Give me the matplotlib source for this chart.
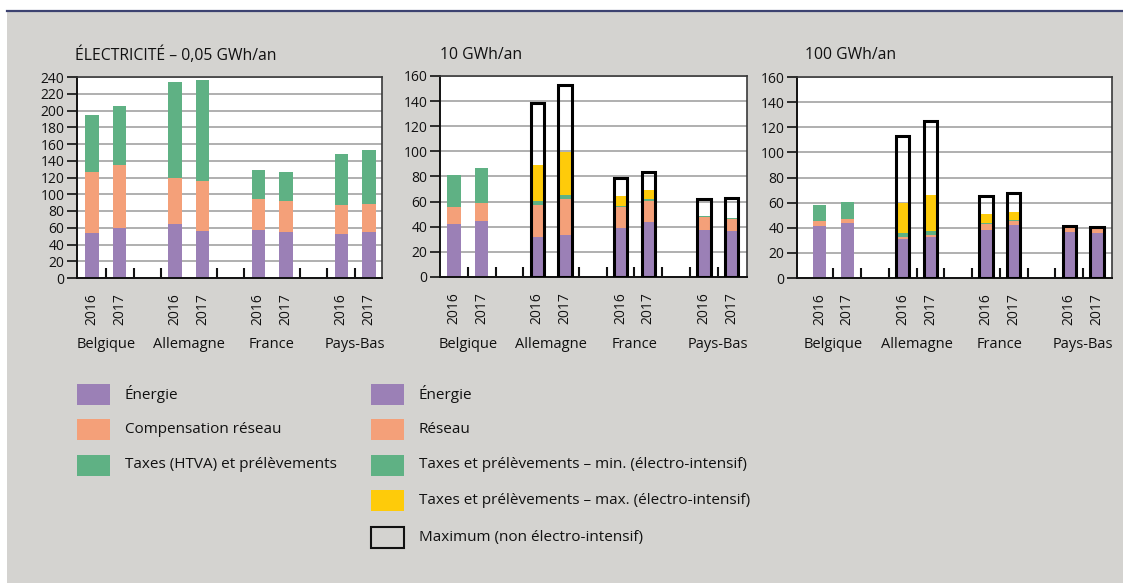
import numpy as np
import matplotlib
matplotlib.use('Agg')
import matplotlib.pyplot as plt
from matplotlib.patches import Rectangle
from matplotlib.lines import Line2D
import matplotlib.transforms as mtransforms

plt.rcParams['font.family'] = ['Open Sans', 'DejaVu Sans']

# ---------------- data ----------------
countries = ['Belgique', 'Allemagne', 'France', 'Pays-Bas']
years = ['2016', '2017']

# 0,05 GWh/an
energie_005 = [54, 60, 64, 56, 57, 55, 53, 55]
reseau_005 = [72, 75, 55, 60, 37, 37, 34, 33]
taxes_005 = [69, 70, 115, 120, 35, 35, 61, 65]

# 10 GWh/an
energie_10 = [42, 44.5, 32, 33.5, 39, 44, 37.5, 36.5]
reseau_10 = [13.5, 14.3, 25.2, 28.8, 16.4, 16.7, 9.9, 9.6]
taxes_min_10 = [25.5, 27.6, 2.9, 3.1, 1.4, 1.3, 1.1, 1.1]
taxes_max_10 = [0, 0, 29.2, 34.2, 7.4, 6.9, 0, 0]
maximum_10 = [np.nan, np.nan, 138.5, 152.6, 79, 83.2, 62.2, 62.8]

# 100 GWh/an
energie_100 = [41, 43.4, 31.2, 32.8, 38.3, 41.8, 37, 36]
reseau_100 = [4.2, 3.7, 1.6, 1.6, 4.5, 3.4, 2.8, 3.2]
taxes_min_100 = [13.2, 13.7, 3.2, 3.2, 1.1, 0.8, 0.4, 0.4]
taxes_max_100 = [0, 0, 23.8, 28.3, 7.1, 6.9, 0, 0]
maximum_100 = [np.nan, np.nan, 113.2, 124.8, 65.3, 67.4, 41.3, 40.8]

titles = ['ÉLECTRICITÉ – 0,05 GWh/an', '10 GWh/an', '100 GWh/an']

legend1 = ['Énergie', 'Compensation réseau', 'Taxes (HTVA) et prélèvements']
legend2 = ['Énergie', 'Réseau', 'Taxes et prélèvements – min. (électro-intensif)',
           'Taxes et prélèvements – max. (électro-intensif)', 'Maximum (non électro-intensif)']

# ---------------- style ----------------
PURPLE = '#9b80b6'
ORANGE = '#f4a079'
GREEN = '#5fb184'
YELLOW = '#fecb0a'
BG = '#d4d3d0'
GRID = '#a9a9a9'

W, H = 1123, 586
fig = plt.figure(figsize=(W / 100, H / 100), dpi=100)
fig.patch.set_facecolor('white')

def fx(px):
    return px / W

def fy(py):
    return 1 - py / H

# gray background & top rule
fig.patches.append(Rectangle((fx(7), fy(583)), 1 - fx(7), fy(11) - fy(583),
                             transform=fig.transFigure, facecolor=BG, edgecolor='none', zorder=-10))
fig.lines.append(Line2D([fx(7), 1], [fy(10.5), fy(10.5)], transform=fig.transFigure,
                        color='#3c4270', lw=1.6, zorder=-9))

xpos = [g * 3 + k for g in range(len(countries)) for k in range(len(years))]
xcent = [g * 3 + 0.5 for g in range(len(countries))]
BW = 0.48

panels = [
    dict(box=(77, 382, 77, 278), xlim=(-0.54, 10.47), ymax=240,
         bounds=[0.5, 1.5, 2.5, 4.5, 5.5, 7.5, 8.5, 9.5], title_x=75),
    dict(box=(440, 747, 76, 277), xlim=(-0.5, 10.55), ymax=160,
         bounds=[0.5, 1.5, 2.5, 4.5, 5.5, 6.5, 7.5, 8.5, 9.5], title_x=440),
    dict(box=(797, 1112, 77, 278), xlim=(-0.81, 10.54), ymax=160,
         bounds=[0.5, 1.5, 2.5, 3.5, 4.5, 5.5, 6.5, 7.5, 8.5, 9.5], title_x=805),
]

axes = []
for i, p in enumerate(panels):
    l, r, t, b = p['box']
    ax = fig.add_axes([fx(l), fy(b), fx(r) - fx(l), fy(t) - fy(b)])
    ax.set_zorder(1)
    ax.set_facecolor('white')
    ax.set_xlim(*p['xlim'])
    ax.set_ylim(0, p['ymax'])
    ax.set_yticks(np.arange(0, p['ymax'] + 1, 20))
    ax.yaxis.grid(True, color=GRID, lw=1.3)
    ax.set_axisbelow(True)
    for s in ['top', 'right']:
        ax.spines[s].set_color('#3a3a3a')
        ax.spines[s].set_linewidth(1.2)
    for s in ['left', 'bottom']:
        ax.spines[s].set_color('#111111')
        ax.spines[s].set_linewidth(1.4)
    ax.tick_params(axis='y', direction='out', length=7, width=1.2, labelsize=10,
                   pad=2, colors='#111111')
    ax.set_xticks(xpos)
    ax.set_xticklabels(years * len(countries), rotation=90, fontsize=10)
    ax.tick_params(axis='x', which='major', length=0, pad=11, colors='#111111')
    ax.set_xticks(p['bounds'], minor=True)
    ax.tick_params(axis='x', which='minor', direction='in', length=7, width=1.5,
                   color='#111111')
    trans = mtransforms.blended_transform_factory(ax.transData, fig.transFigure)
    for c, name in zip(xcent, countries):
        ax.text(c, fy(345), name, transform=trans, ha='center', va='center',
                fontsize=10.5, color='#111111', clip_on=False)
    fig.text(fx(p['title_x']), fy(55), titles[i], ha='left', va='center',
             fontsize=11.3, color='#111111')
    axes.append(ax)

# panel 1
ax = axes[0]
e = np.array(energie_005); n = np.array(reseau_005); tx = np.array(taxes_005)
ax.bar(xpos, e, BW, color=PURPLE, zorder=2)
ax.bar(xpos, n, BW, bottom=e, color=ORANGE, zorder=2)
ax.bar(xpos, tx, BW, bottom=e + n, color=GREEN, zorder=2)

# panels 2 & 3
for ax, en, re, tmin, tmax, mx in [
        (axes[1], energie_10, reseau_10, taxes_min_10, taxes_max_10, maximum_10),
        (axes[2], energie_100, reseau_100, taxes_min_100, taxes_max_100, maximum_100)]:
    e = np.array(en); n = np.array(re); a = np.array(tmin); m = np.array(tmax)
    ax.bar(xpos, e, BW, color=PURPLE, zorder=2)
    ax.bar(xpos, n, BW, bottom=e, color=ORANGE, zorder=2)
    ax.bar(xpos, a, BW, bottom=e + n, color=GREEN, zorder=2)
    ax.bar(xpos, m, BW, bottom=e + n + a, color=YELLOW, zorder=2)
    mx = np.array(mx)
    ok = ~np.isnan(mx)
    ax.bar(np.array(xpos)[ok], mx[ok], BW, fill=False, edgecolor='black', lw=2.2, zorder=3)

# legend (drawn manually)
rows = [394, 429.5, 465, 500.5, 537]
cols1 = [PURPLE, ORANGE, GREEN]
cols2 = [PURPLE, ORANGE, GREEN, YELLOW, None]
pw, ph = 33, 21
LFS = 11
for j, (lab, col) in enumerate(zip(legend1, cols1)):
    y = rows[j]
    fig.patches.append(Rectangle((fx(77), fy(y + ph / 2)), fx(pw), ph / H,
                                 transform=fig.transFigure, facecolor=col, edgecolor='none'))
    fig.text(fx(125), fy(y), lab, ha='left', va='center', fontsize=LFS, color='#111111')
for j, (lab, col) in enumerate(zip(legend2, cols2)):
    y = rows[j]
    if col is None:
        fig.patches.append(Rectangle((fx(371), fy(y + ph / 2)), fx(pw), ph / H,
                                     transform=fig.transFigure, facecolor='none',
                                     edgecolor='#111111', lw=1.5))
    else:
        fig.patches.append(Rectangle((fx(371), fy(y + ph / 2)), fx(pw), ph / H,
                                     transform=fig.transFigure, facecolor=col, edgecolor='none'))
    fig.text(fx(419), fy(y), lab, ha='left', va='center', fontsize=LFS, color='#111111')

fig.savefig('out.png', dpi=100, facecolor=fig.get_facecolor())
